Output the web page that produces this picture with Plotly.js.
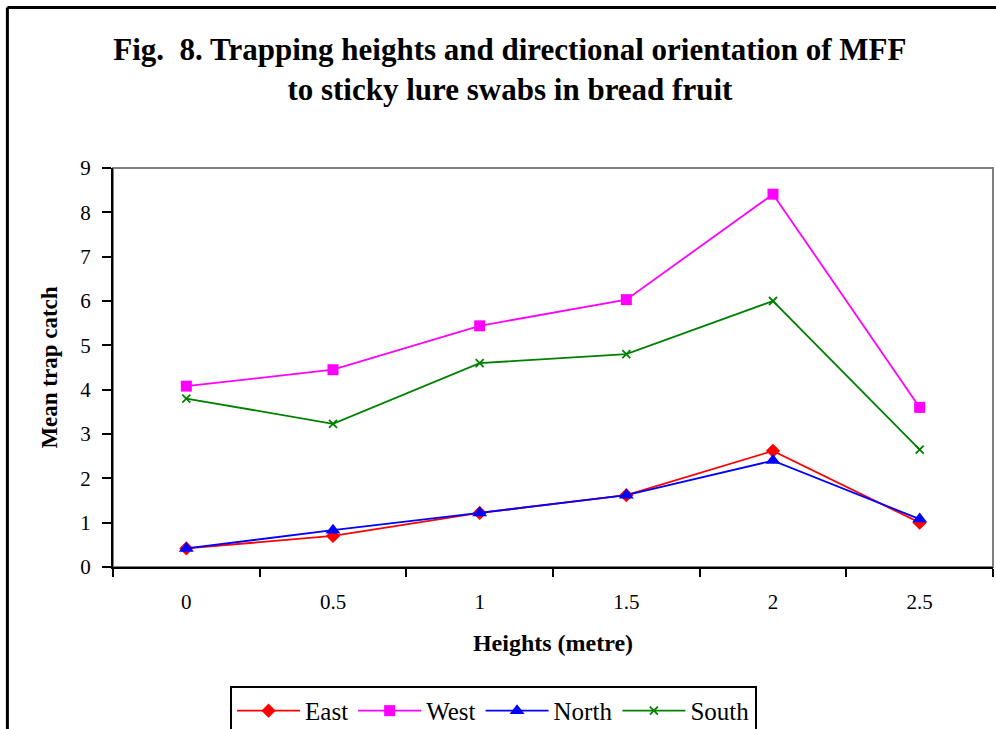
<!DOCTYPE html>
<html>
<head>
<meta charset="utf-8">
<script src="https://cdn.plot.ly/plotly-3.0.1.min.js"></script>
<style>
html,body{margin:0;padding:0;background:#fff;}
#chart{width:996px;height:729px;}
</style>
</head>
<body>
<div id="chart"></div>
<script>
const heights = ["0", "0.5", "1", "1.5", "2", "2.5"];
const east  = [0.42, 0.70, 1.22, 1.62, 2.62, 1.00];
const west  = [4.08, 4.45, 5.44, 6.03, 8.41, 3.60];
const north = [0.42, 0.83, 1.22, 1.62, 2.40, 1.08];
const south = [3.80, 3.23, 4.60, 4.80, 6.00, 2.65];
const yTicks = [0, 1, 2, 3, 4, 5, 6, 7, 8, 9];

const serif = "'Liberation Serif', 'Times New Roman', serif";

function series(name, y, color, symbol, size, extra) {
  return Object.assign({
    type: "scatter", mode: "lines+markers", name: name,
    x: heights, y: y,
    line: {color: color, width: 1.8},
    marker: {color: color, symbol: symbol, size: size, line: {color: color, width: 0}}
  }, extra || {});
}

const data = [
  series("East", east, "#FF0000", "diamond", 11),
  series("West", west, "#FF00FF", "square", 11),
  series("North", north, "#0000FF", "triangle-up", 13),
  series("South", south, "#008000", "x-thin", 8, {marker: {color: "#008000", symbol: "x-thin", size: 8, line: {color: "#008000", width: 1.8}}})
];

const layout = {
  width: 996, height: 729,
  paper_bgcolor: "#ffffff", plot_bgcolor: "#ffffff",
  margin: {l: 113, r: 3, t: 168, b: 162, autoexpand: false},
  font: {family: serif, color: "#000"},
  title: {
    text: "<b>Fig.  8. Trapping heights and directional orientation of MFF<br>to sticky lure swabs in bread fruit</b>",
    font: {family: serif, size: 31, color: "#000"},
    x: 0.451, xanchor: "center", xref: "paper",
    y: 0.918, yanchor: "top", yref: "container"
  },
  xaxis: {
    type: "category",
    range: [-0.5, 5.5],
    tickson: "boundaries",
    automargin: false,
    ticks: "outside", ticklen: 8, tickwidth: 2, tickcolor: "#000",
    showline: true, linecolor: "#000", linewidth: 2,
    showgrid: false, zeroline: false,
    tickfont: {family: serif, size: 21, color: "#000"},
    ticklabelstandoff: 15,
    title: {text: "<b>Heights (metre)</b>", font: {family: serif, size: 24, color: "#000"}, standoff: 21}
  },
  yaxis: {
    range: [0, 9],
    automargin: false,
    tickvals: yTicks,
    ticktext: yTicks.map(String),
    ticks: "outside", ticklen: 9, tickwidth: 2, tickcolor: "#000",
    showline: true, linecolor: "#000", linewidth: 2,
    showgrid: false, zeroline: false,
    tickfont: {family: serif, size: 21, color: "#000"},
    ticklabelstandoff: 7,
    title: {text: "<b>Mean trap catch</b>", font: {family: serif, size: 23, color: "#000"}, standoff: 16}
  },
  showlegend: true,
  legend: {
    orientation: "h",
    x: 0.133, xanchor: "left", xref: "paper",
    y: -0.298, yanchor: "top", yref: "paper",
    bordercolor: "#000", borderwidth: 2, bgcolor: "#fff",
    font: {family: serif, size: 25, color: "#000"},
    itemwidth: 63,
    traceorder: "normal",
    tracegroupgap: 0
  },
  shapes: [
    {type: "rect", xref: "paper", yref: "paper", x0: 0, x1: 1, y0: 0, y1: 1,
     line: {color: "#808080", width: 2}, layer: "below"},
    {type: "line", xref: "paper", yref: "paper", x0: -0.120, x1: -0.120, y0: -0.42, y1: 1.4025,
     line: {color: "#000", width: 3}},
    {type: "line", xref: "paper", yref: "paper", x0: -0.120, x1: 1.1, y0: 1.4025, y1: 1.4025,
     line: {color: "#000", width: 3}}
  ]
};

Plotly.newPlot("chart", data, layout, {displayModeBar: false, staticPlot: true});
</script>
</body>
</html>
